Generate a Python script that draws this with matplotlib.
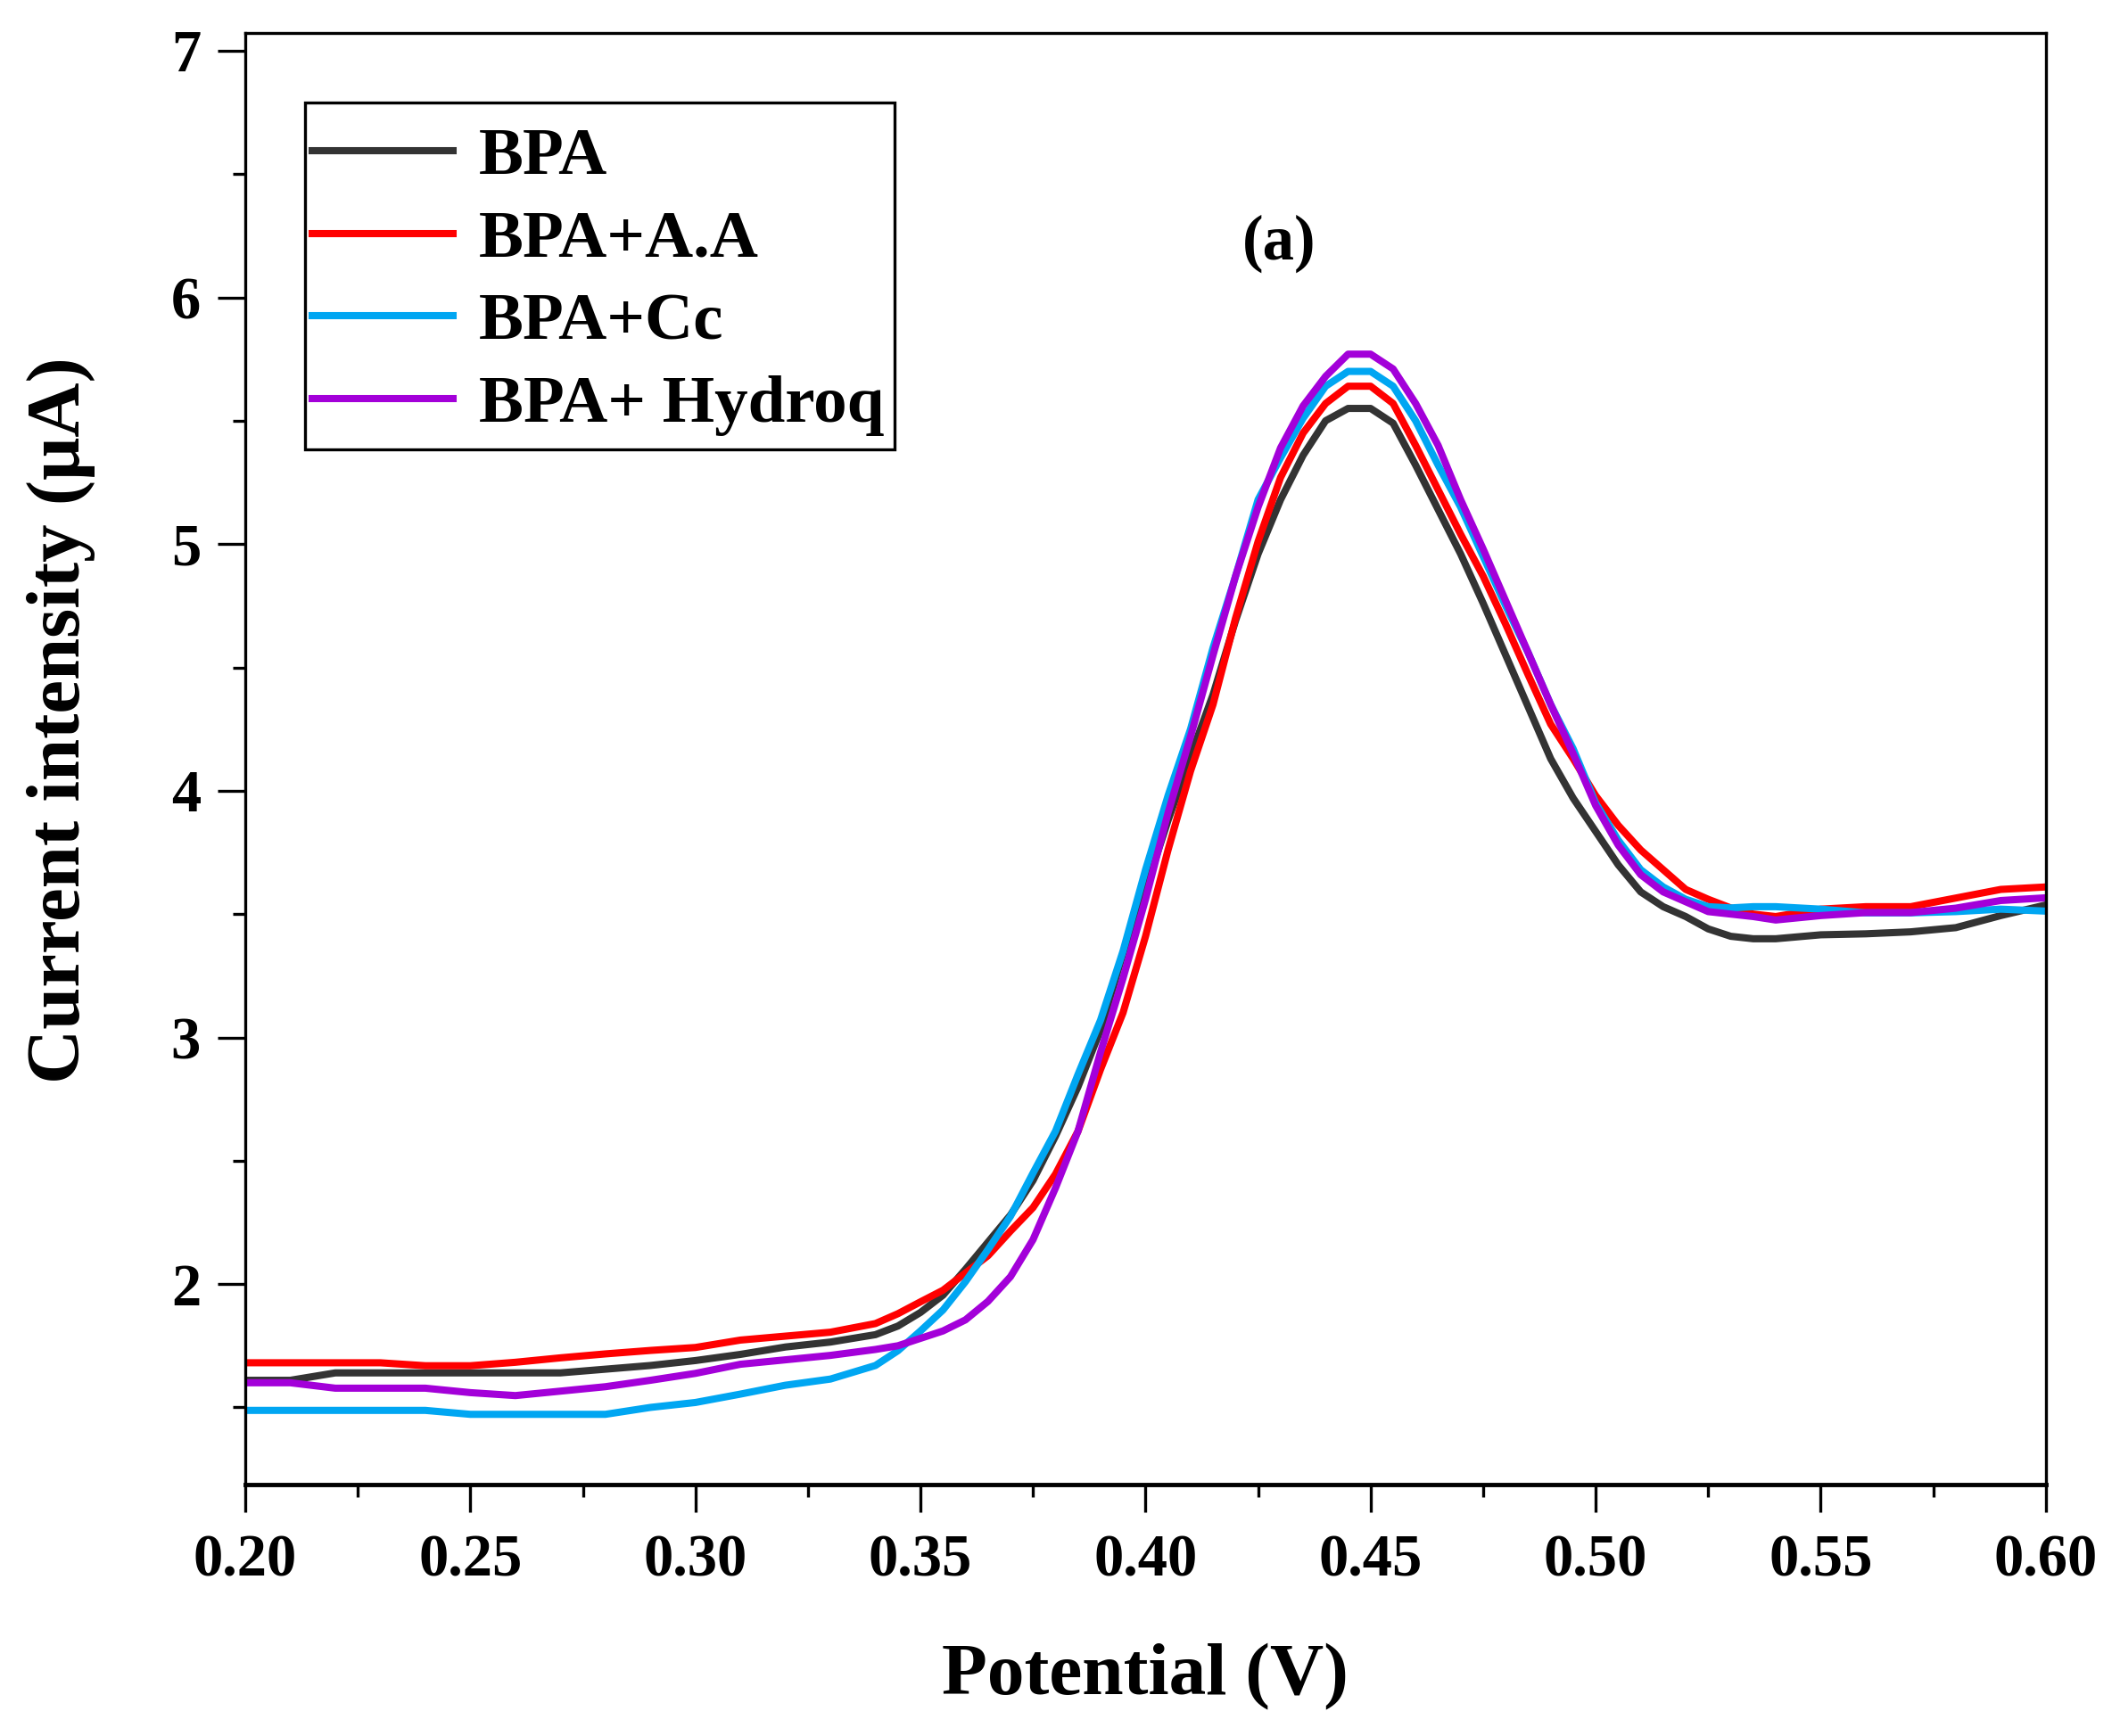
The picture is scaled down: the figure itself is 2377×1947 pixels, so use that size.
import matplotlib
matplotlib.use("Agg")
import matplotlib.pyplot as plt
from matplotlib.patches import Rectangle
from matplotlib.ticker import MultipleLocator, FormatStrFormatter

plt.rcParams['font.family'] = ['Liberation Serif', 'DejaVu Serif']
plt.rcParams['font.weight'] = 'bold'

potential = [0.200, 0.210, 0.220, 0.230, 0.240, 0.250, 0.260, 0.270, 0.280, 0.290,
             0.300, 0.310, 0.320, 0.330, 0.340, 0.345, 0.350, 0.355, 0.360, 0.365,
             0.370, 0.375, 0.380, 0.385, 0.390, 0.395, 0.400, 0.405, 0.410, 0.415,
             0.420, 0.425, 0.430, 0.435, 0.440, 0.445, 0.450, 0.455, 0.460, 0.465,
             0.470, 0.475, 0.480, 0.485, 0.490, 0.495, 0.500, 0.505, 0.510, 0.515,
             0.520, 0.525, 0.530, 0.535, 0.540, 0.550, 0.560, 0.570, 0.580, 0.590,
             0.600]

bpa = [1.61, 1.61, 1.64, 1.64, 1.64, 1.64, 1.64, 1.64, 1.655, 1.67,
       1.69, 1.715, 1.745, 1.765, 1.795, 1.83, 1.885, 1.955, 2.06, 2.17,
       2.28, 2.42, 2.60, 2.80, 3.03, 3.34, 3.60, 3.88, 4.14, 4.39,
       4.69, 4.96, 5.18, 5.36, 5.50, 5.55, 5.55, 5.49, 5.32, 5.14,
       4.96, 4.76, 4.55, 4.34, 4.13, 3.97, 3.835, 3.70, 3.59, 3.53,
       3.49, 3.44, 3.41, 3.40, 3.40, 3.416, 3.42, 3.428, 3.445, 3.494,
       3.537]

bpa_aa = [1.681, 1.681, 1.681, 1.681, 1.669, 1.669, 1.683, 1.701, 1.717, 1.731,
          1.743, 1.773, 1.789, 1.805, 1.84, 1.88, 1.928, 1.975, 2.045, 2.115,
          2.215, 2.31, 2.446, 2.62, 2.87, 3.10, 3.41, 3.76, 4.08, 4.35,
          4.70, 5.01, 5.27, 5.45, 5.57, 5.64, 5.64, 5.57, 5.40, 5.22,
          5.04, 4.87, 4.675, 4.47, 4.27, 4.13, 3.98, 3.86, 3.76, 3.68,
          3.60, 3.56, 3.525, 3.50, 3.49, 3.52, 3.53, 3.53, 3.565, 3.60,
          3.61]

bpa_cc = [1.488, 1.488, 1.488, 1.488, 1.488, 1.472, 1.472, 1.472, 1.472, 1.50,
          1.52, 1.554, 1.59, 1.615, 1.67, 1.73, 1.81, 1.895, 2.01, 2.14,
          2.275, 2.45, 2.62, 2.85, 3.07, 3.35, 3.68, 3.98, 4.25, 4.58,
          4.87, 5.18, 5.35, 5.51, 5.64, 5.70, 5.70, 5.64, 5.50, 5.32,
          5.15, 4.95, 4.75, 4.56, 4.35, 4.17, 3.95, 3.80, 3.68, 3.61,
          3.56, 3.53, 3.525, 3.53, 3.53, 3.52, 3.505, 3.505, 3.51, 3.52,
          3.512]

bpa_hq = [1.60, 1.60, 1.578, 1.578, 1.578, 1.56, 1.548, 1.566, 1.584, 1.61,
          1.638, 1.675, 1.693, 1.711, 1.735, 1.75, 1.78, 1.81, 1.855, 1.93,
          2.03, 2.18, 2.39, 2.62, 2.94, 3.24, 3.56, 3.91, 4.22, 4.55,
          4.87, 5.15, 5.39, 5.56, 5.68, 5.77, 5.77, 5.71, 5.57, 5.40,
          5.18, 4.98, 4.77, 4.56, 4.35, 4.15, 3.94, 3.78, 3.66, 3.59,
          3.55, 3.51, 3.50, 3.49, 3.476, 3.494, 3.506, 3.506, 3.524, 3.555,
          3.566]

labels = ["BPA", "BPA+A.A", "BPA+Cc", "BPA+ Hydroq"]
colors = ["#333333", "#ff0000", "#00a6f2", "#a300d9"]

fig = plt.figure(figsize=(23.77, 19.47), dpi=100)
ax = fig.add_axes([0.1157, 0.1448, 0.8493, 0.8362])

for ys, lab, col in zip([bpa, bpa_aa, bpa_cc, bpa_hq], labels, colors):
    ax.plot(potential, ys, color=col, lw=5.8, label=lab, solid_joinstyle='round')

ax.set_xlim(0.20, 0.60)
ax.set_ylim(1.187, 7.072)
ax.xaxis.set_major_locator(MultipleLocator(0.05))
ax.xaxis.set_minor_locator(MultipleLocator(0.025))
ax.xaxis.set_major_formatter(FormatStrFormatter('%.2f'))
ax.yaxis.set_major_locator(MultipleLocator(1))
ax.yaxis.set_minor_locator(MultipleLocator(0.5))
ax.set_yticks([2, 3, 4, 5, 6, 7])

ax.tick_params(which='major', direction='out', length=22, width=2.4,
               labelsize=48, pad=14)
ax.tick_params(which='minor', direction='out', length=10, width=2.4)
ax.tick_params(axis='x', which='major', pad=18)
for lab in ax.get_xticklabels() + ax.get_yticklabels():
    lab.set_fontweight('bold')
for sp in ax.spines.values():
    sp.set_linewidth(2.4)
ax.spines['bottom'].set_linewidth(3.5)

fig.text(0.5401, 0.034, "Potential (V)", ha='center', va='center',
         fontsize=60, fontweight='bold')
fig.text(0.0286, 1 - 808 / 1947, "Current intensity (μA)", ha='center',
         va='center', rotation=90, fontsize=61, fontweight='bold')

ax.text(0.574, 0.855, "(a)", transform=ax.transAxes, ha='center', va='center',
        fontsize=51, fontweight='bold')

# legend frame drawn separately for exact padding
frame = Rectangle((0.0332, 0.7131), 0.3274, 0.2390, transform=ax.transAxes,
                  facecolor='white', edgecolor='black', linewidth=2.4,
                  zorder=4.5, clip_on=False)
ax.add_patch(frame)

leg = ax.legend(loc='upper left', bbox_to_anchor=(0.0372, 0.9349),
                prop={'size': 54, 'weight': 'bold'}, frameon=False,
                handlelength=2.1, handletextpad=0.39, labelspacing=0.32,
                borderpad=0.0, borderaxespad=0.0)
leg.set_zorder(5)
for h in leg.get_lines():
    h.set_linewidth(5.8)

fig.savefig("out.png", dpi=100, facecolor='white')
